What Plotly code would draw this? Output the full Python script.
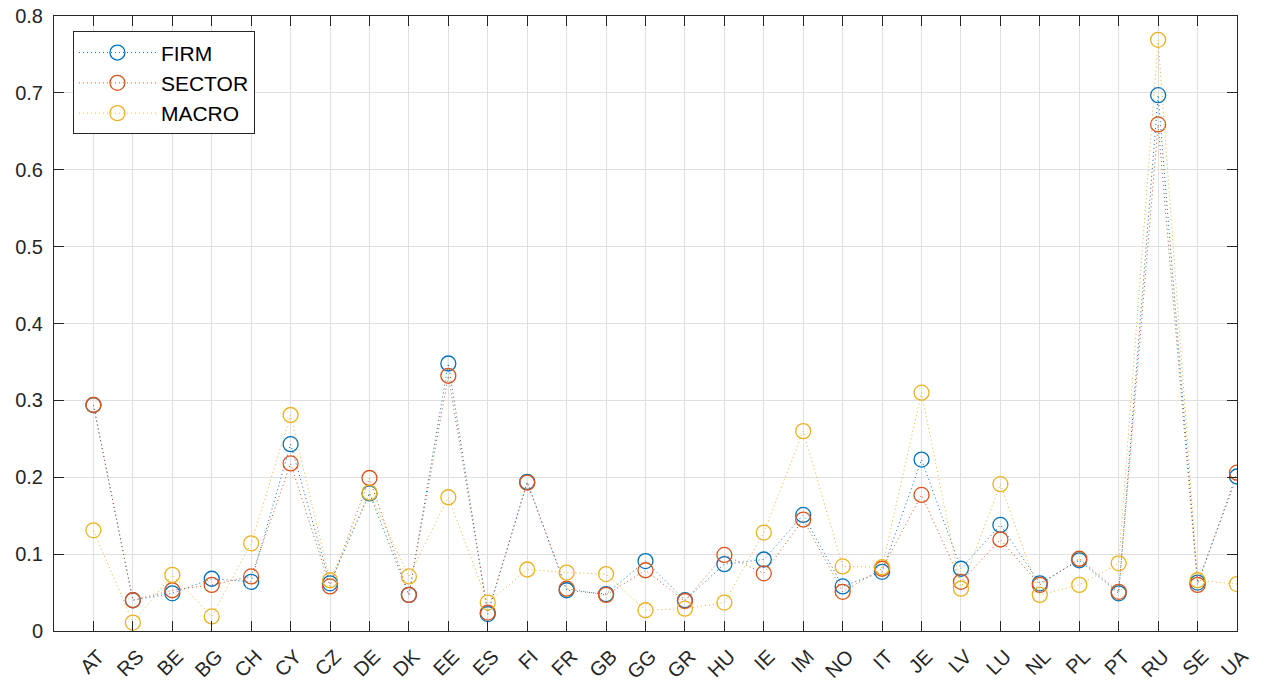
import plotly.graph_objects as go

countries = ["AT","RS","BE","BG","CH","CY","CZ","DE","DK","EE","ES","FI","FR","GB","GG",
             "GR","HU","IE","IM","NO","IT","JE","LV","LU","NL","PL","PT","RU","SE","UA"]
firm   = [0.294,0.040,0.049,0.068,0.064,0.243,0.062,0.179,0.047,0.348,0.022,0.194,0.053,0.048,0.091,
          0.040,0.087,0.093,0.151,0.058,0.077,0.223,0.081,0.138,0.062,0.092,0.049,0.697,0.063,0.201]
sector = [0.294,0.040,0.053,0.060,0.071,0.218,0.058,0.199,0.047,0.332,0.024,0.193,0.055,0.047,0.079,
          0.039,0.099,0.075,0.145,0.051,0.081,0.177,0.064,0.119,0.060,0.094,0.051,0.659,0.060,0.206]
macro  = [0.131,0.011,0.073,0.019,0.114,0.281,0.066,0.180,0.071,0.174,0.037,0.080,0.076,0.074,0.027,
          0.029,0.037,0.128,0.260,0.084,0.083,0.310,0.055,0.191,0.047,0.060,0.088,0.769,0.066,0.061]

series = [("FIRM", firm, "#0072BD"), ("SECTOR", sector, "#D95319"), ("MACRO", macro, "#EDB120")]
xpos = list(range(1, len(countries) + 1))

FONT = "Liberation Sans, Arial, sans-serif"

fig = go.Figure()
for name, vals, col in series:
    fig.add_trace(go.Scatter(
        x=xpos, y=vals, name=name, mode="lines+markers",
        line=dict(color=col, width=1, dash="1px,3px"),
        marker=dict(symbol="circle-open", size=15, color=col, line=dict(width=1.3, color=col)),
    ))

axis_common = dict(
    showline=True, linecolor="#262626", linewidth=1, mirror="ticks",
    ticks="inside", ticklen=10, tickcolor="#262626", tickwidth=1,
    showgrid=True, gridcolor="#e0e0e0", gridwidth=1, zeroline=False,
    tickfont=dict(family=FONT, size=20, color="#262626"),
    ticklabeloverflow="allow",
)

fig.update_layout(
    width=1269, height=687,
    margin=dict(l=54, r=32, t=16, b=56, autoexpand=False),
    paper_bgcolor="white", plot_bgcolor="white",
    font=dict(family=FONT, color="#262626"),
    xaxis=dict(range=[0, 30], tickmode="array", tickvals=xpos, ticktext=countries,
               tickangle=-45, automargin=False, ticklabelstandoff=5, ticklabelshift=5,
               **axis_common),
    yaxis=dict(range=[0, 0.8], dtick=0.1, tickformat="~g", automargin=False,
               ticklabelstandoff=6, **axis_common),
    legend=dict(x=0.016, y=0.975, xanchor="left", yanchor="top",
                bgcolor="white", bordercolor="#262626", borderwidth=1,
                font=dict(size=21, color="#000000", family=FONT),
                itemwidth=77, tracegroupgap=0),
    showlegend=True,
)

# remove the default 8px page margin so the figure fills the window exactly
fig.write_html("out.html", config={"displayModeBar": False},
               post_script="document.body.style.margin='0px';")
